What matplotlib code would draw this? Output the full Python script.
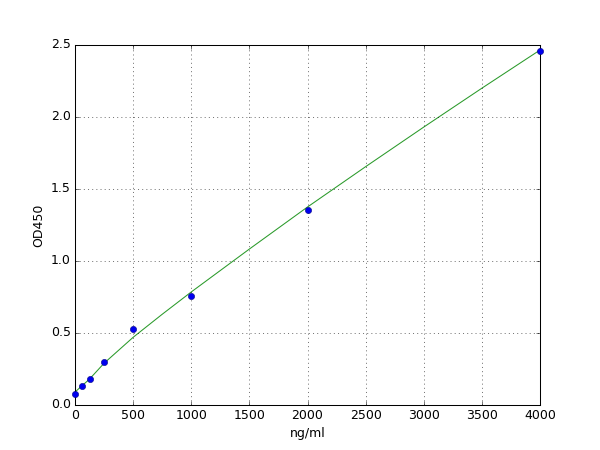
import matplotlib
matplotlib.use("Agg")
import matplotlib.pyplot as plt

# standard points
conc = [0, 62.5, 125, 250, 500, 1000, 2000, 4000]
od450 = [0.076, 0.13, 0.18, 0.30, 0.525, 0.755, 1.355, 2.46]

# fitted curve
fit_x = [0, 62.5, 125, 250, 500, 750, 1000, 1500, 2000, 2500, 3000, 3500, 4000]
fit_y = [0.09, 0.135, 0.18, 0.29, 0.47, 0.63, 0.785, 1.083, 1.375, 1.655, 1.93, 2.2, 2.465]

plt.style.use("classic")
fig = plt.figure(figsize=(8, 6), facecolor="white")
ax = fig.add_subplot(111)

ax.plot(fit_x, fit_y, "-", color="#2a9a2a")
ax.plot(conc, od450, "o", color="#0000ee", markeredgecolor="#000080",
        markeredgewidth=0.5, clip_on=False, zorder=3)

ax.set_xlim(0, 4000)
ax.set_ylim(0, 2.5)
ax.set_xlabel("ng/ml")
ax.set_ylabel("OD450")
ax.grid(True)

fig.savefig("out.png", dpi=75, facecolor="white")
